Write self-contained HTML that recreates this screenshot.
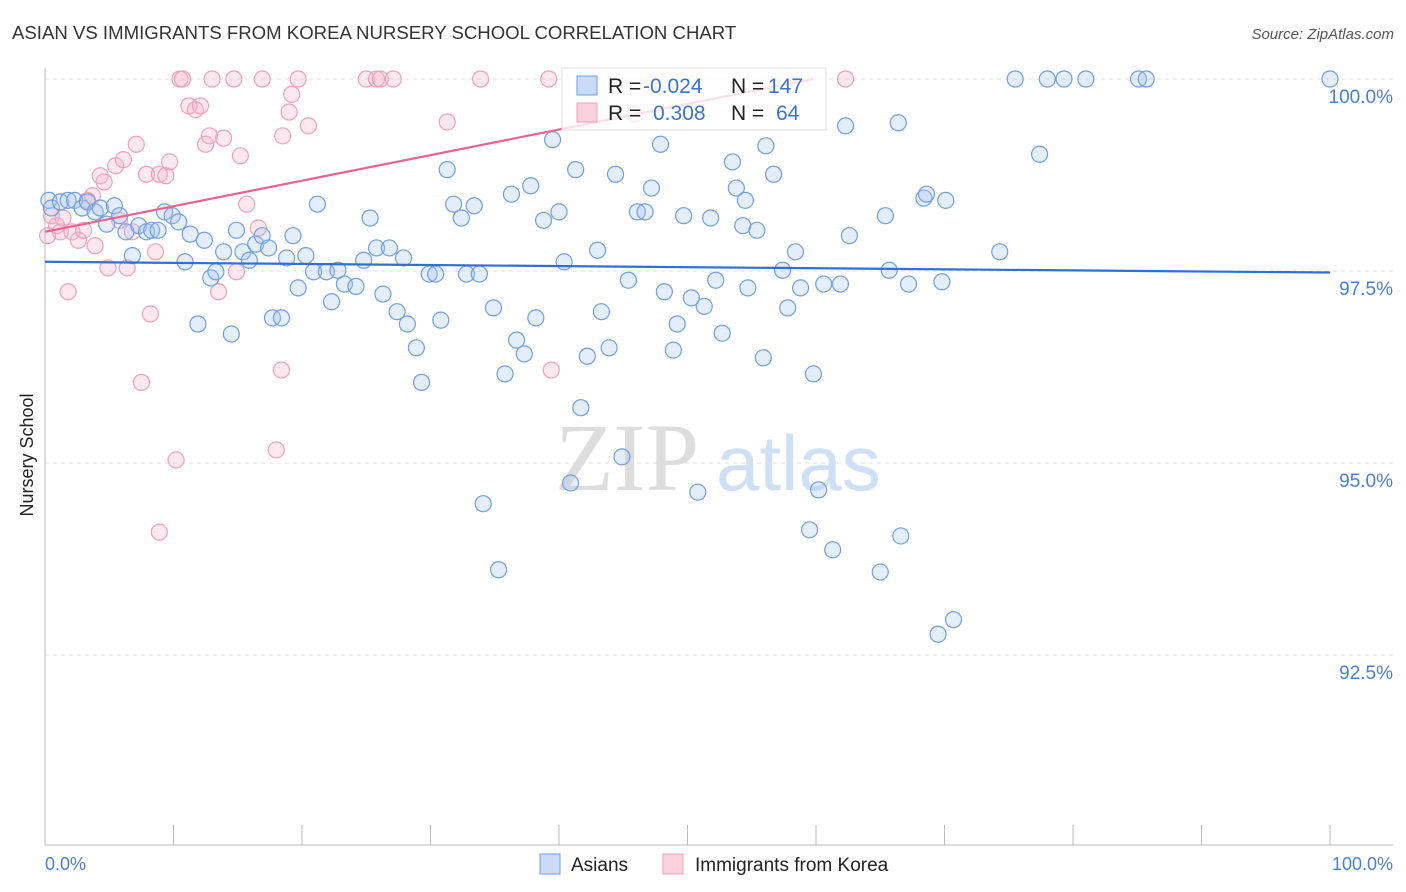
<!DOCTYPE html>
<html><head><meta charset="utf-8"><style>
body{margin:0;background:#fff;font-family:"Liberation Sans",sans-serif}
svg{display:block}
</style></head><body>
<svg id="chart" width="1406" height="892" xmlns="http://www.w3.org/2000/svg">
<text x="12" y="39" font-size="18.6" fill="#333">ASIAN VS IMMIGRANTS FROM KOREA NURSERY SCHOOL CORRELATION CHART</text>
<text x="1394" y="39" font-size="15" fill="#555" font-style="italic" text-anchor="end">Source: ZipAtlas.com</text>
<text transform="translate(33,455) rotate(-90)" font-size="18" fill="#222" text-anchor="middle">Nursery School</text>
<g>
<text x="555" y="490" font-size="96" font-family="Liberation Serif,serif" fill="#ddd">ZIP</text>
<text x="716" y="490" font-size="78" fill="#cfe0f5">atlas</text>
</g>
<g id="grid"></g>
<g id="axes"></g>
<g id="marks"></g>
<g id="legend">
<rect x="562" y="68" width="264" height="62" fill="rgba(255,255,255,0.8)" stroke="#ddd"/>
<rect x="577" y="76" width="20" height="19" fill="rgba(165,195,240,0.6)" stroke="#6f9fe0"/>
<text y="93" font-size="21"><tspan x="608" fill="#222">R = </tspan><tspan x="643" fill="#3a73d0">-0.024</tspan><tspan x="731" fill="#222">N = </tspan><tspan x="768" fill="#3a73d0">147</tspan></text>
<rect x="577" y="103" width="20" height="19" fill="rgba(245,180,200,0.6)" stroke="#f0a0b8"/>
<text y="120" font-size="21"><tspan x="608" fill="#222">R = </tspan><tspan x="653" fill="#3a73d0">0.308</tspan><tspan x="731" fill="#222">N = </tspan><tspan x="776" fill="#3a73d0">64</tspan></text>
</g>
<g>
<rect x="540" y="854" width="20" height="20" fill="rgba(165,195,240,0.6)" stroke="#6f9fe0"/>
<text x="571" y="871" font-size="19" fill="#222">Asians</text>
<rect x="663" y="854" width="20" height="20" fill="rgba(245,180,200,0.6)" stroke="#f0a0b8"/>
<text x="695" y="871" font-size="19" fill="#222">Immigrants from Korea</text>
</g>
</svg>
<script>
const asianX=[0.3,0.5,1.2,1.8,2.3,2.9,3.3,3.9,4.3,4.8,5.4,5.8,6.3,6.8,7.3,7.9,8.3,8.8,9.3,9.9,10.4,10.9,11.3,11.9,12.4,12.9,13.3,13.9,14.5,14.9,15.4,15.9,16.4,16.9,17.4,17.7,18.4,18.8,19.3,19.7,20.3,20.9,21.2,21.9,22.3,22.8,23.3,24.2,24.8,25.3,25.8,26.3,26.8,27.4,27.9,28.2,28.9,29.3,29.9,30.4,30.8,31.3,31.8,32.4,32.8,33.4,33.8,34.1,34.9,35.3,35.8,36.3,36.7,37.3,37.8,38.2,38.8,39.5,40.0,40.4,40.9,41.3,41.7,42.2,43.0,43.3,43.9,44.4,44.9,45.4,46.1,46.7,47.2,47.9,48.2,48.9,49.2,49.7,50.3,50.8,51.3,51.8,52.2,52.7,53.5,53.8,54.3,54.5,54.7,55.4,55.9,56.1,56.7,57.4,57.8,58.4,58.8,59.5,59.8,60.2,60.6,61.3,61.9,62.3,62.6,65.0,65.4,65.7,66.4,66.6,67.2,68.4,68.6,69.5,69.8,70.1,70.7,74.3,75.5,77.4,78.0,79.3,81.0,85.1,85.7,100];
const asianY=[98.42,98.32,98.40,98.42,98.42,98.32,98.40,98.27,98.32,98.11,98.35,98.22,98.01,97.70,98.09,98.01,98.03,98.03,98.27,98.22,98.14,97.62,97.98,96.81,97.90,97.41,97.49,97.75,96.68,98.03,97.75,97.64,97.85,97.96,97.80,96.89,96.89,97.67,97.96,97.28,97.70,97.49,98.37,97.49,97.10,97.51,97.33,97.30,97.64,98.19,97.80,97.20,97.80,96.97,97.67,96.81,96.50,96.05,97.46,97.46,96.86,98.82,98.37,98.19,97.46,98.35,97.46,94.47,97.02,93.61,96.16,98.50,96.60,96.42,98.61,96.89,98.16,99.21,98.27,97.62,94.74,98.82,95.72,96.39,97.77,96.97,96.50,98.76,95.08,97.38,98.27,98.27,98.58,99.15,97.23,96.47,96.81,98.22,97.15,94.62,97.04,98.19,97.38,96.69,98.92,98.58,98.09,98.42,97.28,98.03,96.37,99.13,98.76,97.51,97.02,97.75,97.28,94.13,96.16,94.65,97.33,93.87,97.33,99.39,97.96,93.58,98.22,97.51,99.43,94.05,97.33,98.45,98.50,92.77,97.36,98.42,92.96,97.75,100,99.02,100,100,100,100,100,100];
const koreaX=[0.2,0.5,0.9,1.2,1.4,1.8,2.1,2.6,3.0,3.3,3.7,3.9,4.3,4.6,4.9,5.5,5.8,6.1,6.4,6.8,7.1,7.5,7.9,8.2,8.6,8.9,9.4,9.7,10.2,10.5,10.7,8.9,11.2,11.7,12.1,12.5,12.8,13.0,13.5,13.9,14.7,14.9,15.2,15.7,16.6,16.9,18.0,18.4,18.5,19.0,19.2,19.7,20.5,25.0,25.8,26.1,27.1,31.3,33.9,39.2,39.4,45.9,62.3];
const koreaY=[97.96,98.22,98.09,98.01,98.19,97.23,98.01,97.90,98.03,98.42,98.48,97.83,98.74,98.66,97.54,98.87,98.16,98.95,97.54,98.01,99.15,96.05,98.76,96.94,97.75,98.76,98.74,98.92,95.04,100,100,94.10,99.65,99.60,99.65,99.15,99.26,100,97.23,99.23,100,97.49,99.00,98.37,98.06,100,95.17,96.21,99.26,99.57,99.80,100,99.39,100,100,100,100,99.44,100,100,96.21,99.54,100];
const asianTrend=[97.62,97.48];
const koreaTrend=[98.01,0.0333];
const yTicks=[100,97.5,95,92.5];
const yTickLabels=["100.0%","97.5%","95.0%","92.5%"];

const NS="http://www.w3.org/2000/svg";
const X=v=>45+v*12.85;
const Y=v=>79+(100-v)*76.8;
function mk(tag,attrs,parent){const e=document.createElementNS(NS,tag);for(const k in attrs)e.setAttribute(k,attrs[k]);parent.appendChild(e);return e;}
const grid=document.getElementById('grid'),axes=document.getElementById('axes'),marks=document.getElementById('marks');
yTicks.forEach((t,i)=>{
  const l=mk('line',{x1:45,x2:1393,y1:Y(t),y2:Y(t),stroke:'#ddd','stroke-dasharray':'4,4'},grid);
  
  
  const tx=mk('text',{x:1393,y:Y(t)+24,'font-size':19,fill:'#4a7fd0','text-anchor':'end'},axes);
  tx.textContent=yTickLabels[i];
  
  
});
const ax=mk('line',{x1:45,x2:45,y1:68,y2:845,stroke:'#bbb'},axes);


const bx=mk('line',{x1:45,x2:1393,y1:845,y2:845,stroke:'#bbb'},axes);


for(let i=0;i<=10;i++){
  const t=mk('line',{x1:X(i*10),x2:X(i*10),y1:825,y2:845,stroke:'#bbb'},axes);
  
  
}
[[0,'0.0%','start'],[100,'100.0%','end']].forEach(([v,s,a])=>{
  const t=mk('text',{x:v===0?45:1393,y:870,'font-size':18,fill:'#4a7fd0','text-anchor':a},axes);
  t.textContent=s;
  
  
});
koreaX.forEach((x,i)=>{
  const c=mk('circle',{cx:X(x),cy:Y(koreaY[i]),r:8,fill:'rgba(245,180,200,0.3)',stroke:'#f0a0b8','stroke-width':1.2},marks);
  
  
});
asianX.forEach((x,i)=>{
  const c=mk('circle',{cx:X(x),cy:Y(asianY[i]),r:8,fill:'rgba(165,195,240,0.3)',stroke:'#6f9fe0','stroke-width':1.2},marks);
  
  
});
const at=mk('line',{x1:X(0),y1:Y(asianTrend[0]),x2:X(100),y2:Y(asianTrend[1]),stroke:'#2f6fd6','stroke-width':2.2},marks);


const kEnd=(100-koreaTrend[0])/koreaTrend[1];
const kt=mk('line',{x1:X(0),y1:Y(koreaTrend[0]),x2:X(kEnd),y2:Y(koreaTrend[0]+koreaTrend[1]*kEnd),stroke:'#e8638e','stroke-width':2.2},marks);


</script>
</body></html>
